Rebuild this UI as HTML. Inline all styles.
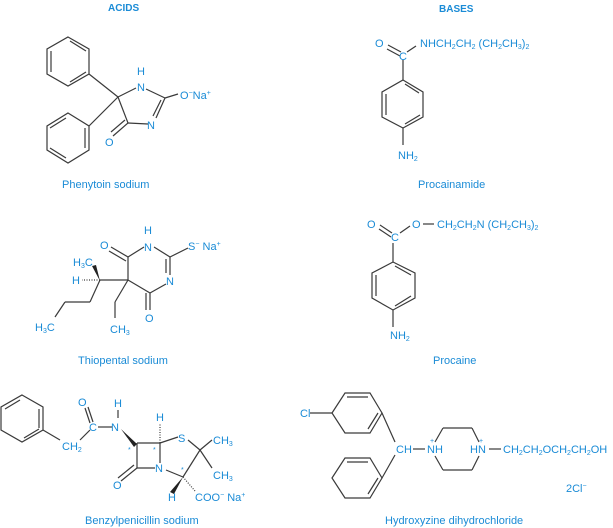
<!DOCTYPE html>
<html><head><meta charset="utf-8"><style>
html,body{margin:0;padding:0;background:#fff;}
svg{display:block;}
text{font-family:"Liberation Sans",sans-serif;fill:#1a8bd6;font-size:11px;}
.b{stroke:#3a3a3a;stroke-width:1.2;fill:none;}
.bl{font-weight:bold;font-size:10px;}
.s{font-size:7px;}
</style></head><body>
<svg width="613" height="528" viewBox="0 0 613 528" xmlns="http://www.w3.org/2000/svg">
<text x="108" y="11" class="bl">ACIDS</text>
<text x="439" y="12" class="bl">BASES</text>

<!-- Phenytoin -->
<g class="b">
<polygon points="68,37 89,49 89,74 68,86 47,74 47,49"/>
<line x1="51" y1="51" x2="51" y2="72"/><line x1="70" y1="41" x2="86" y2="51"/><line x1="70" y1="82" x2="86" y2="72"/>
<polygon points="68,113 89,126 89,150 68,163 47,150 47,126"/>
<line x1="85" y1="128" x2="85" y2="148"/><line x1="50" y1="128" x2="66" y2="118"/><line x1="50" y1="148" x2="66" y2="158"/>
<line x1="89" y1="74" x2="118" y2="97"/><line x1="89" y1="126" x2="118" y2="97"/>
<line x1="118" y1="97" x2="136" y2="88"/><line x1="146" y1="89" x2="165" y2="98"/>
<line x1="165" y1="98" x2="178" y2="94"/>
<line x1="165" y1="98" x2="156" y2="118"/><line x1="161" y1="100" x2="153" y2="116"/>
<line x1="148" y1="124" x2="128" y2="123"/><line x1="118" y1="97" x2="128" y2="123"/>
<line x1="128" y1="123" x2="113" y2="136"/><line x1="125" y1="120" x2="111" y2="132"/>
</g>
<text x="137" y="75">H</text><text x="137" y="91">N</text>
<text x="180" y="99">O<tspan class="s" dy="-4">−</tspan><tspan dy="4">Na</tspan><tspan class="s" dy="-4">+</tspan></text>
<text x="147" y="129">N</text><text x="105" y="146">O</text>
<text x="62" y="188">Phenytoin sodium</text>

<!-- Thiopental -->
<g class="b">
<line x1="128" y1="257" x2="144" y2="247"/><line x1="154" y1="247" x2="170" y2="257"/>
<line x1="170" y1="257" x2="188" y2="248"/>
<line x1="170" y1="257" x2="170" y2="275"/><line x1="166" y1="259" x2="166" y2="273"/>
<line x1="166" y1="284" x2="150" y2="293"/><line x1="150" y1="293" x2="128" y2="280"/>
<line x1="128" y1="280" x2="128" y2="257"/>
<line x1="128" y1="257" x2="111" y2="247"/><line x1="126" y1="261" x2="109" y2="251"/>
<line x1="150" y1="293" x2="150" y2="310"/><line x1="146" y1="293" x2="146" y2="310"/>
<line x1="128" y1="280" x2="100" y2="280"/>
<line x1="100" y1="280" x2="90" y2="302"/><line x1="90" y1="302" x2="65" y2="302"/><line x1="65" y1="302" x2="55" y2="317"/>
<line x1="128" y1="280" x2="115" y2="302"/><line x1="115" y1="302" x2="115" y2="318"/>
<line x1="100" y1="280" x2="82" y2="280" stroke-dasharray="1,1.5"/>
</g>
<polygon points="100,281 92,266 96,265" fill="#222"/>
<text x="144" y="234">H</text><text x="144" y="251">N</text>
<text x="188" y="250">S<tspan class="s" dy="-4">−</tspan><tspan dy="4"> Na</tspan><tspan class="s" dy="-4">+</tspan></text>
<text x="166" y="285">N</text><text x="100" y="249">O</text><text x="145" y="322">O</text>
<text x="73" y="266">H<tspan class="s" dy="2">3</tspan><tspan dy="-2">C</tspan></text>
<text x="72" y="284">H</text>
<text x="35" y="331">H<tspan class="s" dy="2">3</tspan><tspan dy="-2">C</tspan></text>
<text x="110" y="333">CH<tspan class="s" dy="2">3</tspan></text>
<text x="78" y="364">Thiopental sodium</text>

<!-- Benzylpenicillin -->
<g class="b">
<polygon points="22,395 43,407 43,430 22,442 1,430 1,407"/>
<line x1="39" y1="409" x2="39" y2="428"/><line x1="24" y1="399" x2="39" y2="408" opacity="0"/><line x1="24" y1="438" x2="39" y2="429"/><line x1="5" y1="409" x2="20" y2="400"/>
<line x1="43" y1="430" x2="60" y2="440"/>
<line x1="80" y1="440" x2="90" y2="430"/>
<line x1="90" y1="423" x2="85" y2="408"/><line x1="93" y1="422" x2="88" y2="407"/>
<line x1="98" y1="427" x2="112" y2="427"/>
<line x1="118" y1="418" x2="118" y2="410"/>
<line x1="137" y1="443" x2="160" y2="443"/><line x1="160" y1="443" x2="160" y2="463"/>
<line x1="155" y1="468" x2="137" y2="468"/><line x1="137" y1="468" x2="137" y2="443"/>
<line x1="137" y1="468" x2="121" y2="481"/><line x1="134" y1="465" x2="118" y2="478"/>
<line x1="160" y1="443" x2="178" y2="437"/><line x1="188" y1="440" x2="200" y2="450"/>
<line x1="200" y1="450" x2="212" y2="440"/><line x1="200" y1="450" x2="212" y2="468"/>
<line x1="200" y1="450" x2="183" y2="477"/><line x1="183" y1="477" x2="166" y2="470"/>
<line x1="160" y1="443" x2="160" y2="424" stroke-dasharray="1,1.5"/>
<line x1="183" y1="477" x2="195" y2="491" stroke-dasharray="1,1.5"/>
</g>
<polygon points="121,429 137,444 134,447" fill="#222"/>
<polygon points="183,477 170,492 174,494" fill="#222"/>
<text x="78" y="406">O</text><text x="114" y="407">H</text>
<text x="89" y="431">C</text><text x="111" y="431">N</text>
<text x="62" y="450">CH<tspan class="s" dy="2">2</tspan></text>
<text x="156" y="421">H</text><text x="178" y="442">S</text>
<text x="155" y="472">N</text><text x="113" y="489">O</text>
<text x="213" y="444">CH<tspan class="s" dy="2">3</tspan></text>
<text x="213" y="479">CH<tspan class="s" dy="2">3</tspan></text>
<text x="168" y="501">H</text>
<text x="195" y="501">COO<tspan class="s" dy="-4">−</tspan><tspan dy="4"> Na</tspan><tspan class="s" dy="-4">+</tspan></text>
<text x="128" y="452" class="s">*</text><text x="153" y="452" class="s">*</text><text x="181" y="472" class="s">*</text>
<text x="85" y="524">Benzylpenicillin sodium</text>

<!-- Procainamide -->
<g class="b">
<line x1="388" y1="45" x2="401" y2="52"/><line x1="387" y1="49" x2="400" y2="56"/>
<line x1="407" y1="52" x2="416" y2="46"/>
<line x1="403" y1="60" x2="403" y2="80"/>
<polygon points="403,80 423,92 423,117 403,128 382,117 382,92"/>
<line x1="386" y1="94" x2="386" y2="115"/><line x1="405" y1="84" x2="420" y2="94" opacity="0"/><line x1="405" y1="124" x2="420" y2="115"/><line x1="405" y1="84" x2="419" y2="93"/>
<line x1="403" y1="128" x2="403" y2="145"/>
</g>
<text x="375" y="47">O</text><text x="399" y="60">C</text>
<text x="420" y="47">NHCH<tspan class="s" dy="2">2</tspan><tspan dy="-2">CH</tspan><tspan class="s" dy="2">2</tspan><tspan dy="-2"> (CH</tspan><tspan class="s" dy="2">2</tspan><tspan dy="-2">CH</tspan><tspan class="s" dy="2">3</tspan><tspan dy="-2">)</tspan><tspan class="s" dy="2">2</tspan></text>
<text x="398" y="159">NH<tspan class="s" dy="2">2</tspan></text>
<text x="418" y="188">Procainamide</text>

<!-- Procaine -->
<g class="b">
<line x1="380" y1="225" x2="392" y2="233"/><line x1="379" y1="229" x2="391" y2="237"/>
<line x1="400" y1="233" x2="410" y2="226"/>
<line x1="423" y1="224" x2="434" y2="224"/>
<line x1="393" y1="243" x2="393" y2="262"/>
<polygon points="393,262 415,273 415,298 393,310 372,298 372,273"/>
<line x1="376" y1="275" x2="376" y2="296"/><line x1="395" y1="266" x2="411" y2="275"/><line x1="395" y1="306" x2="411" y2="296"/>
<line x1="393" y1="310" x2="393" y2="327"/>
</g>
<text x="367" y="228">O</text><text x="391" y="241">C</text><text x="412" y="228">O</text>
<text x="437" y="228">CH<tspan class="s" dy="2">2</tspan><tspan dy="-2">CH</tspan><tspan class="s" dy="2">2</tspan><tspan dy="-2">N (CH</tspan><tspan class="s" dy="2">2</tspan><tspan dy="-2">CH</tspan><tspan class="s" dy="2">3</tspan><tspan dy="-2">)</tspan><tspan class="s" dy="2">2</tspan></text>
<text x="390" y="339">NH<tspan class="s" dy="2">2</tspan></text>
<text x="433" y="364">Procaine</text>

<!-- Hydroxyzine -->
<g class="b">
<line x1="310" y1="413" x2="332" y2="413"/>
<polygon points="332,413 345,393 370,393 382,413 370,433 345,433"/>
<line x1="347" y1="397" x2="368" y2="397"/><line x1="378" y1="413" x2="368" y2="429"/><line x1="336" y1="413" x2="347" y2="429" opacity="0"/><line x1="347" y1="429" x2="336" y2="413" opacity="0"/>
<line x1="382" y1="413" x2="395" y2="442"/>
<polygon points="332,478 345,458 370,458 382,478 370,498 345,498"/>
<line x1="347" y1="462" x2="368" y2="462"/><line x1="378" y1="478" x2="368" y2="494"/><line x1="336" y1="478" x2="347" y2="494" opacity="0"/><line x1="347" y1="494" x2="368" y2="494" opacity="0"/>
<line x1="336" y1="478" x2="347" y2="462" opacity="0"/>
<line x1="382" y1="478" x2="395" y2="455"/>
<line x1="413" y1="449" x2="425" y2="449"/>
<line x1="435" y1="442" x2="443" y2="428"/><line x1="443" y1="428" x2="472" y2="428"/><line x1="472" y1="428" x2="479" y2="442"/>
<line x1="435" y1="456" x2="443" y2="470"/><line x1="443" y1="470" x2="472" y2="470"/><line x1="472" y1="470" x2="479" y2="456"/>
<line x1="489" y1="449" x2="501" y2="449"/>
</g>
<text x="300" y="417">Cl</text>
<text x="396" y="453">CH</text>
<text x="427" y="453">NH</text><text x="430" y="443" class="s">+</text>
<text x="470" y="453">HN</text><text x="479" y="443" class="s">+</text>
<text x="503" y="453">CH<tspan class="s" dy="2">2</tspan><tspan dy="-2">CH</tspan><tspan class="s" dy="2">2</tspan><tspan dy="-2">OCH</tspan><tspan class="s" dy="2">2</tspan><tspan dy="-2">CH</tspan><tspan class="s" dy="2">2</tspan><tspan dy="-2">OH</tspan></text>
<text x="566" y="492">2Cl<tspan class="s" dy="-4">−</tspan></text>
<text x="385" y="524">Hydroxyzine dihydrochloride</text>
</svg>
</body></html>
